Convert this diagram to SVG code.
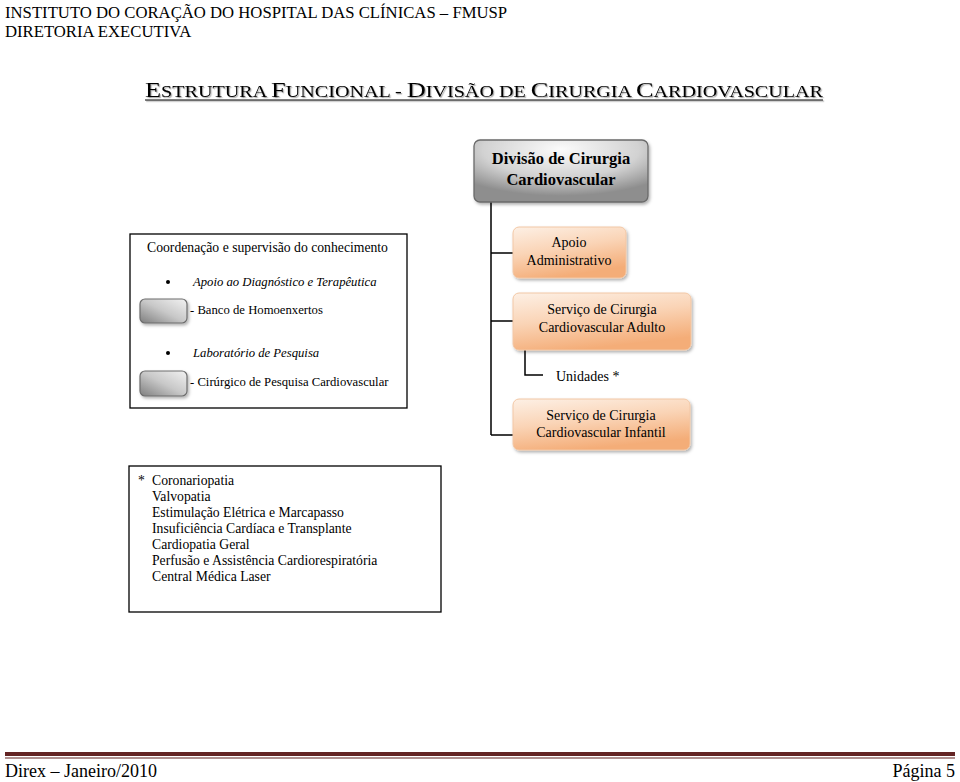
<svg xmlns="http://www.w3.org/2000/svg" width="960" height="782" viewBox="0 0 960 782">
<defs>
<style>
.t{font-family:"Liberation Serif","Times New Roman",serif;fill:#000}
.hdr{font-size:16.7px}
.c14{font-size:14px;text-anchor:middle}
.l14{font-size:13.7px}
.i{font-style:italic}
.conn{stroke:#000;stroke-width:1.5;fill:none}
.frame{fill:#fff;stroke:#000;stroke-width:1.3}
.ob{fill:url(#og);stroke:#f2c7a5;stroke-width:1;filter:url(#sh)}
.gb{fill:url(#gg);stroke:#6d6d6d;stroke-width:1.2;filter:url(#sh)}
.foot{font-family:"Liberation Serif","Times New Roman",serif;font-size:18px;fill:#000}
</style>
<linearGradient id="og" x1="0" y1="0" x2="0.35" y2="1">
<stop offset="0" stop-color="#fdf0e5"/>
<stop offset="0.5" stop-color="#fad4b6"/>
<stop offset="1" stop-color="#f4ad78"/>
</linearGradient>
<radialGradient id="mg" cx="0.5" cy="0.15" r="0.75">
<stop offset="0" stop-color="#fbfbfb"/>
<stop offset="0.6" stop-color="#d2d2d2"/>
<stop offset="1" stop-color="#8e8e8e"/>
</radialGradient>
<linearGradient id="gg" x1="1" y1="0" x2="0" y2="1">
<stop offset="0" stop-color="#f2f2f2"/>
<stop offset="0.5" stop-color="#c8c8c8"/>
<stop offset="1" stop-color="#7e7e7e"/>
</linearGradient>
<filter id="sh" x="-10%" y="-10%" width="125%" height="135%">
<feDropShadow dx="1.5" dy="2" stdDeviation="1.5" flood-color="#000" flood-opacity="0.3"/>
</filter>
<filter id="tsh" x="-5%" y="-30%" width="110%" height="160%">
<feDropShadow dx="1.2" dy="1.2" stdDeviation="0.6" flood-color="#000" flood-opacity="0.35"/>
</filter>
</defs>

<g id="header">
<text class="t hdr" x="5" y="18">INSTITUTO DO CORAÇÃO DO HOSPITAL DAS CLÍNICAS – FMUSP</text>
<text class="t hdr" x="5" y="37">DIRETORIA EXECUTIVA</text>
</g>

<g id="title" filter="url(#tsh)">
<text class="t" x="145" y="97" textLength="678" lengthAdjust="spacingAndGlyphs" style="font-size:16px"><tspan style="font-size:21px">E</tspan>STRUTURA <tspan style="font-size:21px">F</tspan>UNCIONAL - <tspan style="font-size:21px">D</tspan>IVISÃO DE <tspan style="font-size:21px">C</tspan>IRURGIA <tspan style="font-size:21px">C</tspan>ARDIOVASCULAR</text>
<line x1="145" y1="100" x2="823" y2="100" stroke="#000" stroke-width="1.2"/>
</g>

<g id="connectors">
<path class="conn" d="M491 202 V435 M491 253 H513 M491 321 H513 M491 435 H513"/>
<path class="conn" d="M525 350 V375 H543"/>
</g>

<g id="node-divisao">
<rect x="474" y="140" width="174" height="62" rx="6" fill="url(#mg)" stroke="#6a6a6a" stroke-width="1.3" filter="url(#sh)"/>
<text class="t" x="561" y="164" style="font-size:16.5px;font-weight:bold;text-anchor:middle">Divisão de Cirurgia</text>
<text class="t" x="561" y="185" style="font-size:16.5px;font-weight:bold;text-anchor:middle">Cardiovascular</text>
</g>

<g id="node-apoio">
<rect class="ob" x="513" y="227" width="113" height="51" rx="6"/>
<text class="t c14" x="569" y="247">Apoio</text>
<text class="t c14" x="569" y="265">Administrativo</text>
</g>

<g id="node-adulto">
<rect class="ob" x="513" y="293" width="178" height="57" rx="6"/>
<text class="t c14" x="602" y="314">Serviço de Cirurgia</text>
<text class="t c14" x="602" y="332">Cardiovascular Adulto</text>
</g>

<g id="node-unidades">
<text class="t" x="556" y="381" style="font-size:14px">Unidades *</text>
</g>

<g id="node-infantil">
<rect class="ob" x="513" y="399" width="177" height="51" rx="6"/>
<text class="t c14" x="601" y="420">Serviço de Cirurgia</text>
<text class="t c14" x="601" y="437">Cardiovascular Infantil</text>
</g>

<g id="node-coordenacao">
<rect class="frame" x="130" y="234" width="277" height="174"/>
<text class="t" x="147" y="252" style="font-size:13.7px">Coordenação e supervisão do conhecimento</text>
<circle cx="168" cy="282" r="2"/>
<text class="t i" x="193" y="286" style="font-size:12.7px">Apoio ao Diagnóstico e Terapêutica</text>
<rect class="gb" x="140" y="299" width="47" height="24" rx="5"/>
<text class="t" x="190" y="314" style="font-size:12.7px">- Banco de Homoenxertos</text>
<circle cx="168" cy="353" r="2"/>
<text class="t i" x="193" y="357" style="font-size:12.7px">Laboratório de Pesquisa</text>
<rect class="gb" x="140" y="371" width="47" height="25" rx="5"/>
<text class="t" x="190" y="386" style="font-size:12.7px">- Cirúrgico de Pesquisa Cardiovascular</text>
</g>

<g id="node-unidades-lista">
<rect class="frame" x="129" y="466" width="312" height="146"/>
<text class="t l14" x="138" y="485">*</text>
<text class="t l14" x="152" y="485">Coronariopatia</text>
<text class="t l14" x="152" y="501">Valvopatia</text>
<text class="t l14" x="152" y="517">Estimulação Elétrica e Marcapasso</text>
<text class="t l14" x="152" y="533">Insuficiência Cardíaca e Transplante</text>
<text class="t l14" x="152" y="549">Cardiopatia Geral</text>
<text class="t l14" x="152" y="565">Perfusão e Assistência Cardiorespiratória</text>
<text class="t l14" x="152" y="581">Central Médica Laser</text>
</g>

<g id="footer">
<rect x="5" y="752" width="950" height="4" fill="#632423"/>
<rect x="5" y="757.5" width="950" height="1" fill="#632423"/>
<text class="foot" x="5" y="777" textLength="152" lengthAdjust="spacingAndGlyphs">Direx – Janeiro/2010</text>
<text class="foot" x="955" y="777" text-anchor="end">Página 5</text>
</g>
</svg>
